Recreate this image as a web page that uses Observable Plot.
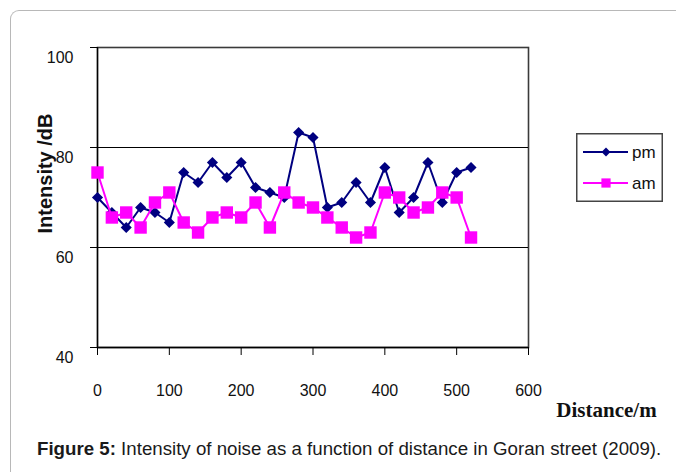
<!DOCTYPE html>
<html>
<head>
<meta charset="utf-8">
<script src="https://cdn.jsdelivr.net/npm/d3@7"></script>
<script src="https://cdn.jsdelivr.net/npm/@observablehq/plot@0.6"></script>
<style>
  html, body { margin: 0; padding: 0; background: #fff; }
  #wrap { position: relative; width: 676px; height: 472px; overflow: hidden; font-family: "Liberation Sans", Arial, sans-serif; }
  #border { position: absolute; left: 10px; top: 10px; width: 720px; height: 520px;
            border-left: 1.5px solid #b8b8b8; border-top: 1.5px solid #b8b8b8; border-top-left-radius: 9px; }
  #chart { position: absolute; left: 0; top: 0; }
  #legend { position: absolute; left: 576px; top: 133px; }
  #caption { position: absolute; left: 37px; top: 438px; font-size: 18.7px; line-height: 22px; color: #1a1a1a; white-space: nowrap; }
</style>
</head>
<body>
<div id="wrap">
  <div id="border"></div>
  <div id="chart"></div>
  <div id="legend"></div>
  <div id="caption"></div>
</div>
<script>
// ---- data ----
const distance = [0, 20, 40, 60, 80, 100, 120, 140, 160, 180, 200, 220, 240, 260, 280, 300, 320, 340, 360, 380, 400, 420, 440, 460, 480, 500, 520];
const pm = [70, 67, 64, 68, 67, 65, 75, 73, 77, 74, 77, 72, 71, 70, 83, 82, 68, 69, 73, 69, 76, 67, 70, 77, 69, 75, 76];
const am = [75, 66, 67, 64, 69, 71, 65, 63, 66, 67, 66, 69, 64, 71, 69, 68, 66, 64, 62, 63, 71, 70, 67, 68, 71, 70, 62];
const xTicks = [0, 100, 200, 300, 400, 500, 600];
const yTicks = [40, 60, 80, 100];
const seriesNames = ["pm", "am"];
const seriesColors = ["#000080", "#FF00FF"];
const seriesSymbols = ["diamond2", "square"];
const xLabel = "Distance/m";
const yLabel = "Intensity /dB";
const captionBold = "Figure 5:";
const captionText = " Intensity of noise as a function of distance in Goran street (2009).";

const pmData = distance.map((d, i) => ({distance: d, value: pm[i]}));
const amData = distance.map((d, i) => ({distance: d, value: am[i]}));

const sans = "'Liberation Sans', Arial, sans-serif";
const serif = "'Liberation Serif', 'Times New Roman', serif";

const chart = Plot.plot({
  width: 676,
  height: 432,
  marginLeft: 97,
  marginRight: 148,
  marginTop: 47,
  marginBottom: 85,
  style: {background: "transparent", fontFamily: sans, overflow: "visible", color: "#000"},
  x: {domain: [0, 600], axis: null},
  y: {domain: [40, 100], axis: null},
  marks: [
    Plot.frame({stroke: "#3a3a3a", strokeWidth: 1.6}),
    Plot.ruleY([60, 80], {stroke: "#000", strokeWidth: 1}),
    Plot.ruleX([0], {stroke: "#000", strokeWidth: 1.3}),
    Plot.ruleY([40], {stroke: "#000", strokeWidth: 1.3}),
    Plot.axisX({ticks: xTicks, tickSize: 8, tickFormat: () => "", label: null, stroke: "#000"}),
    Plot.axisY({ticks: yTicks, tickSize: 7, tickFormat: () => "", label: null, stroke: "#000"}),
    Plot.text(xTicks, {x: d => d, text: d => String(d), frameAnchor: "bottom", textAnchor: "middle", lineAnchor: "middle", dy: 43, fontSize: 16, fill: "#111"}),
    Plot.text(yTicks, {y: d => d, text: d => String(d), frameAnchor: "left", textAnchor: "end", lineAnchor: "middle", dx: -24, dy: 10, fontSize: 16, fill: "#111"}),
    Plot.text([yLabel], {frameAnchor: "left", textAnchor: "middle", lineAnchor: "middle", rotate: -90, dx: -52, dy: -24, fontSize: 20, fontWeight: "bold", fill: "#111"}),
    Plot.text([xLabel], {frameAnchor: "bottom-right", textAnchor: "middle", lineAnchor: "middle", dx: 78, dy: 63, fontSize: 21, fontWeight: "bold", fontFamily: serif, fill: "#111"}),
    Plot.line(pmData, {x: "distance", y: "value", stroke: seriesColors[0], strokeWidth: 2}),
    Plot.dot(pmData, {x: "distance", y: "value", symbol: seriesSymbols[0], r: 5, fill: seriesColors[0]}),
    Plot.line(amData, {x: "distance", y: "value", stroke: seriesColors[1], strokeWidth: 2}),
    Plot.dot(amData, {x: "distance", y: "value", symbol: seriesSymbols[1], r: 7, fill: seriesColors[1]})
  ]
});
document.getElementById("chart").appendChild(chart);

// ---- legend ----
const lw = 87, lh = 69;
const lsvg = d3.select("#legend").append("svg").attr("width", lw).attr("height", lh);
lsvg.append("rect").attr("x", 0.75).attr("y", 0.75).attr("width", lw - 1.5).attr("height", lh - 1.5)
  .attr("fill", "#fff").attr("stroke", "#444").attr("stroke-width", 1.5);
const symMap = {diamond2: d3.symbolDiamond2, square: d3.symbolSquare};
const symSize = {diamond2: Math.PI * 4.0 * 4.0, square: Math.PI * 5.2 * 5.2};
seriesNames.forEach((name, i) => {
  const cy = 19 + i * 31;
  const g = lsvg.append("g");
  g.append("line").attr("x1", 7).attr("x2", 52).attr("y1", cy).attr("y2", cy)
    .attr("stroke", seriesColors[i]).attr("stroke-width", 2);
  g.append("path").attr("d", d3.symbol(symMap[seriesSymbols[i]], symSize[seriesSymbols[i]])())
    .attr("transform", `translate(30,${cy})`).attr("fill", seriesColors[i]);
  g.append("text").attr("x", 56).attr("y", cy).attr("dy", "0.35em")
    .attr("font-family", sans).attr("font-size", 17).attr("fill", "#111").text(name);
});

// ---- caption ----
const cap = document.getElementById("caption");
const b = document.createElement("b");
b.textContent = captionBold;
cap.appendChild(b);
cap.appendChild(document.createTextNode(captionText));
</script>
</body>
</html>
